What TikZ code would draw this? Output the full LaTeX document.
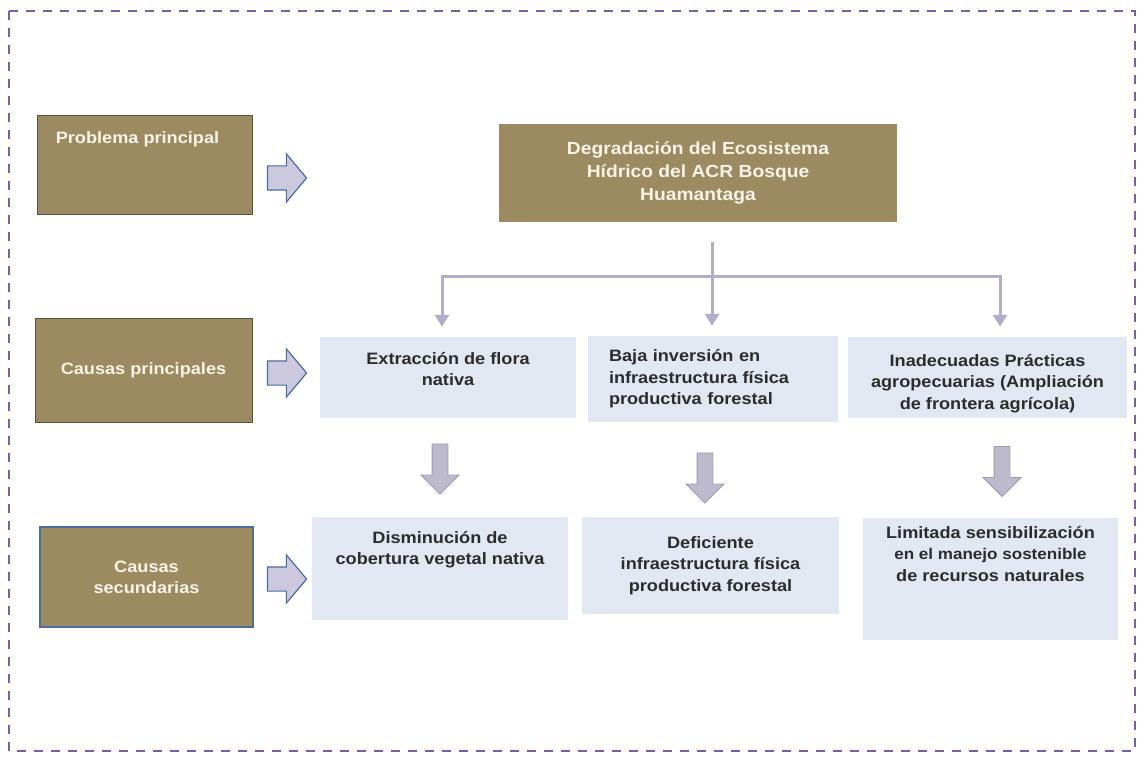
\documentclass[tikz,border=0pt]{standalone}
\usepackage{fontspec}
\newfontfamily\diagfont{Liberation Sans}[FakeStretch=1.1]
\usepackage{xcolor}
\usepackage{tikz}
\usetikzlibrary{shapes, arrows.meta, positioning}

\definecolor{framecol}{RGB}{123,94,167}
\definecolor{tagfill}{RGB}{156,139,97}
\definecolor{tagline}{RGB}{92,82,62}
\definecolor{tagblue}{RGB}{74,110,160}
\definecolor{tagtext}{RGB}{246,243,232}
\definecolor{boxfill}{RGB}{226,232,242}
\definecolor{darktext}{RGB}{44,44,44}
\definecolor{rarrowfill}{RGB}{204,200,222}
\definecolor{rarrowline}{RGB}{72,110,165}
\definecolor{darrowfill}{RGB}{190,186,205}
\definecolor{darrowline}{RGB}{158,154,178}
\definecolor{connline}{RGB}{178,174,202}

\begin{document}
\begin{tikzpicture}[x=1pt, y=-1pt,
    tag/.style={draw=tagline, fill=tagfill, line width=0.8pt, inner sep=0pt},
    causa/.style={fill=boxfill, inner sep=0pt},
    tagtxt/.style={font=\diagfont\bfseries\fontsize{16.5}{21}\selectfont, text=tagtext, align=center},
    causatxt/.style={font=\diagfont\bfseries\fontsize{16.5}{21.5}\selectfont, text=darktext, align=center},
    rarrow/.style={single arrow, draw=rarrowline, fill=rarrowfill, line width=1.2pt,
        inner xsep=0pt, inner ysep=11.5pt, single arrow head extend=12pt,
        single arrow tip angle=100, minimum height=39pt},
    darrow/.style={single arrow, draw=darrowline, fill=darrowfill, line width=0.8pt,
        inner xsep=0pt, inner ysep=7.5pt, single arrow head extend=11pt,
        single arrow tip angle=90, minimum height=50pt, rotate=-90},
    conn/.style={draw=connline, line width=3pt, shorten >=10pt,
        -{Triangle[width=14pt,length=12pt,fill=connline]}},
]
    \useasboundingbox (0,0) rectangle (1140,762);

    % Dashed frame
    \draw[framecol, line width=1.8pt, dash pattern=on 9pt off 8pt] (9,11) rectangle (1135,751);

    % Labels on the left
    \node[tag, minimum width=215pt, minimum height=99pt,
        label={[tagtxt, inner sep=0pt, anchor=north, xshift=-7pt, yshift=-17pt]north:Problema principal}]
        (prob) at (144.5,164.5) {};
    \node[tag, tagtxt, minimum width=217pt, minimum height=104pt] (cprin) at (143.5,370) {Causas principales};
    \node[tag, tagtxt, draw=tagblue, line width=1.2pt, minimum width=213pt, minimum height=100pt]
        (csec) at (146.5,577) {Causas\\secundarias};

    % Block arrows pointing right
    \node[rarrow] (ra1) at (282,178) {};
    \node[rarrow] (ra2) at (282,373) {};
    \node[rarrow] (ra3) at (282,579) {};

    % Main problem
    \node[tag, draw=none, tagtxt, font=\diagfont\bfseries\fontsize{17.5}{23}\selectfont,
        minimum width=398pt, minimum height=98pt] (main) at (698,173)
        {Degradación del Ecosistema\\Hídrico del ACR Bosque\\Huamantaga};

    % Main causes
    \node[causa, minimum width=256pt, minimum height=81pt,
        label={[causatxt, inner sep=0pt, anchor=north, yshift=-15pt]north:Extracción de flora\\nativa}]
        (c1) at (448,377.5) {};
    \node[causa, causatxt, minimum width=250pt, minimum height=86pt, text width=208pt, align=left]
        (c2) at (713,379) {Baja inversión en\\infraestructura física\\productiva forestal};
    \node[causa, minimum width=279pt, minimum height=81pt,
        label={[causatxt, inner sep=0pt, anchor=north, yshift=-17pt]north:Inadecuadas Prácticas\\agropecuarias (Ampliación\\de frontera agrícola)}]
        (c3) at (987.5,377.5) {};

    % Secondary causes
    \node[causa, minimum width=256pt, minimum height=103pt,
        label={[causatxt, inner sep=0pt, anchor=north, yshift=-14pt]north:Disminución de\\cobertura vegetal nativa}]
        (e1) at (440,568.5) {};
    \node[causa, causatxt, minimum width=257pt, minimum height=97pt]
        (e2) at (710.5,565.5) {Deficiente\\infraestructura física\\productiva forestal};
    \node[causa, minimum width=255pt, minimum height=122pt,
        label={[causatxt, inner sep=0pt, anchor=north, yshift=-8pt]north:Limitada sensibilización\\{\fontsize{15.5}{20}\selectfont en el manejo sostenible}\\de recursos naturales}]
        (e3) at (990.5,579) {};

    % Block arrows pointing down
    \node[darrow] (da1) at (440,465) {};
    \node[darrow] (da2) at (705,474) {};
    \node[darrow] (da3) at (1002,467.5) {};

    % Branching connector
    \coordinate (stem) at (712,242);
    \coordinate (hub) at (712,276);
    \draw[connline, line width=3pt] (stem) -- (hub);
    \draw[conn] (hub) -| ([xshift=-6pt]c1.north);
    \draw[conn] (stem) -- (c2.north -| stem);
    \draw[conn] (hub) -| ([xshift=12.5pt]c3.north);

\end{tikzpicture}
\end{document}
